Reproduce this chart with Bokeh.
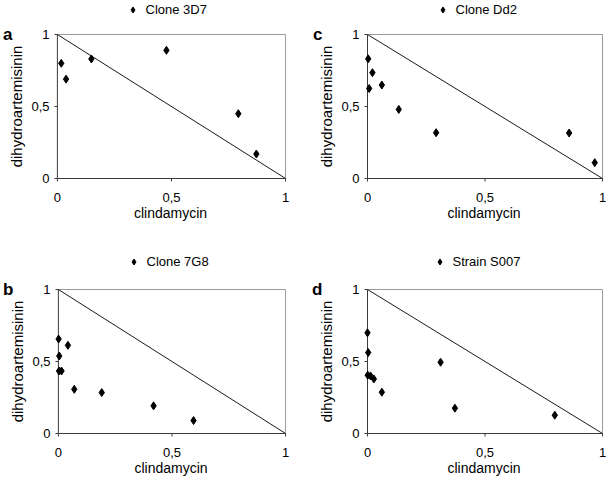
from bokeh.plotting import figure
from bokeh.layouts import row, column
from bokeh.models import Range1d, FixedTicker, Legend, LegendItem, LinearAxis
from bokeh.embed import file_html
from bokeh.resources import INLINE

# ---------------- data ----------------
ticks = [0, 0.5, 1]
tick_labels = {0: "0", 0.5: "0,5", 1: "1"}
x_title = "clindamycin"
y_title = "dihydroartemisinin"
isobole_x = [0, 1]
isobole_y = [1, 0]

names = ["Clone 3D7", "Clone Dd2", "Clone 7G8", "Strain S007"]
letters = ["a", "c", "b", "d"]

clone_3d7_cla = [0.017, 0.038, 0.149, 0.478, 0.793, 0.872]
clone_3d7_dha = [0.80, 0.69, 0.83, 0.89, 0.45, 0.17]

clone_dd2_cla = [0.003, 0.007, 0.021, 0.061, 0.133, 0.292, 0.858, 0.967]
clone_dd2_dha = [0.831, 0.625, 0.735, 0.649, 0.480, 0.318, 0.316, 0.110]

clone_7g8_cla = [0.001, 0.004, 0.003, 0.014, 0.042, 0.070, 0.191, 0.419, 0.595]
clone_7g8_dha = [0.656, 0.538, 0.434, 0.434, 0.612, 0.307, 0.284, 0.192, 0.090]

strain_s007_cla = [0.0, 0.003, 0.001, 0.013, 0.027, 0.061, 0.311, 0.372, 0.797]
strain_s007_dha = [0.699, 0.562, 0.405, 0.400, 0.379, 0.287, 0.495, 0.176, 0.127]

# ---------------- layout / style ----------------
FONT = "Liberation Sans"
BOX_W, BOX_H = 235, 144
PAD_L, PAD_R, PAD_B = 4, 2, 4
TICK_PX = 3
AXIS_DARK = "#3a3a3a"
AXIS_LIGHT = "#9a9a9a"
LEG_H = 15


def bare_axis(**kw):
    return LinearAxis(axis_line_color=None, major_tick_line_color=None,
                      minor_tick_line_color=None, major_tick_in=0,
                      major_tick_out=0, major_label_text_font=FONT,
                      major_label_text_color="black", **kw)


def make_panel(letter, name, xs, ys, width, height, border_left, border_top,
               top_ext, legend_gap, legend_dx):
    lo, mid, hi = ticks[0], ticks[1], ticks[-1]
    ux = (hi - lo) / BOX_W
    uy = (hi - lo) / BOX_H
    frame_h = top_ext + BOX_H + PAD_B
    p = figure(width=width, height=height, output_backend="svg",
               toolbar_location=None,
               x_range=Range1d(lo - PAD_L * ux, hi + PAD_R * ux),
               y_range=Range1d(lo - PAD_B * uy, hi + top_ext * uy),
               min_border_left=border_left,
               min_border_right=width - border_left - BOX_W - PAD_L - PAD_R,
               min_border_top=border_top,
               min_border_bottom=height - border_top - frame_h)
    p.outline_line_color = None
    p.grid.visible = False
    p.background_fill_color = "white"

    xa, ya = p.xaxis[0], p.yaxis[0]
    for ax in (xa, ya):
        ax.ticker = FixedTicker(ticks=ticks)
        ax.major_label_overrides = tick_labels
        ax.minor_tick_line_color = None
        ax.major_tick_in = 0
        ax.major_tick_out = 0
        ax.major_tick_line_color = None
        ax.axis_line_color = None
        ax.major_label_text_font = FONT
        ax.major_label_text_font_size = "13px"
        ax.major_label_text_color = "black"
    xa.axis_label = x_title
    xa.axis_label_text_font = FONT
    xa.axis_label_text_font_style = "normal"
    xa.axis_label_text_color = "black"
    xa.axis_label_text_font_size = "14px"
    xa.major_label_standoff = 10
    xa.axis_label_standoff = 0
    ya.major_label_standoff = 4

    # y title, centred on the box (vertical label of an outer axis)
    title_axis = bare_axis(ticker=FixedTicker(ticks=[mid]),
                           major_label_overrides={mid: y_title},
                           major_label_orientation="vertical",
                           major_label_standoff=4,
                           major_label_text_font_size="15px")
    p.add_layout(title_axis, "left")

    # panel letter: outermost left axis with one bold label at the box top
    letter_axis = bare_axis(ticker=FixedTicker(ticks=[hi]),
                            major_label_overrides={hi: letter},
                            major_label_standoff=-8,
                            major_label_text_font_style="bold",
                            major_label_text_font_size="17px")
    p.add_layout(letter_axis, "left")

    # frame of the chart: dark left/bottom axes, light top/right edges
    p.line([lo, lo], [lo, hi], line_color=AXIS_DARK, line_width=1)
    p.line([lo, hi], [lo, lo], line_color=AXIS_DARK, line_width=1)
    p.line([lo, hi], [hi, hi], line_color=AXIS_LIGHT, line_width=1)
    p.line([hi, hi], [lo, hi], line_color=AXIS_LIGHT, line_width=1)
    # tick marks (outside)
    p.segment(x0=[lo] * len(ticks), y0=ticks,
              x1=[lo - TICK_PX * ux] * len(ticks), y1=ticks,
              line_color=AXIS_DARK, line_width=1)
    p.segment(x0=ticks, y0=[lo] * len(ticks),
              x1=ticks, y1=[lo - TICK_PX * uy] * len(ticks),
              line_color=AXIS_DARK, line_width=1)
    # additivity line
    p.line(isobole_x, isobole_y, line_color="#1a1a1a", line_width=1)

    r = p.scatter(xs, ys, marker="diamond", size=8, fill_color="black",
                  line_color="black")

    # legend above the box (inside the upper part of the frame)
    legend = Legend(items=[LegendItem(label=name, renderers=[r])],
                    location=(PAD_L + legend_dx - 7.5,
                              PAD_B + BOX_H + legend_gap - LEG_H / 2),
                    orientation="horizontal",
                    glyph_width=15, glyph_height=15, label_height=LEG_H,
                    label_standoff=6, padding=0, margin=0, spacing=0,
                    border_line_color=None, background_fill_alpha=0,
                    label_text_font=FONT, label_text_font_size="13px",
                    label_text_color="black")
    p.add_layout(legend)
    return p


pa = make_panel(letters[0], names[0], clone_3d7_cla, clone_3d7_dha,
                304, 230, 46, 1, 33, 25, 75)
pc = make_panel(letters[1], names[1], clone_dd2_cla, clone_dd2_dha,
                304, 230, 59, 1, 33, 25, 75)
pb = make_panel(letters[2], names[2], clone_7g8_cla, clone_7g8_dha,
                304, 251, 46, 22, 37, 28, 75)
pd = make_panel(letters[3], names[3], strain_s007_cla, strain_s007_dha,
                304, 251, 59, 22, 37, 28, 72)

layout = column(row(pa, pc), row(pb, pd))

open("out.html", "w").write(file_html(layout, INLINE))
